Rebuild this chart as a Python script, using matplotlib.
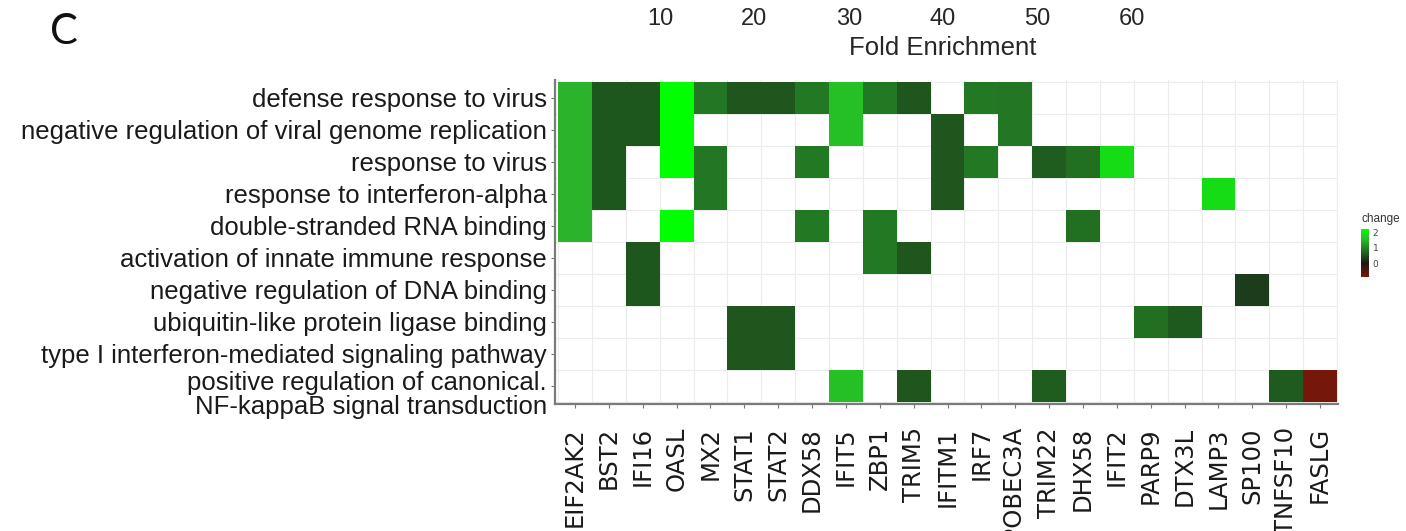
import numpy as np
import matplotlib
matplotlib.use("Agg")
import matplotlib.pyplot as plt
from matplotlib.colors import LinearSegmentedColormap
from matplotlib.transforms import ScaledTranslation

# GO terms (rows, top to bottom)
terms = [
    "defense response to virus",
    "negative regulation of viral genome replication",
    "response to virus",
    "response to interferon-alpha",
    "double-stranded RNA binding",
    "activation of innate immune response",
    "negative regulation of DNA binding",
    "ubiquitin-like protein ligase binding",
    "type I interferon-mediated signaling pathway",
    "positive regulation of canonical.\nNF-kappaB signal transduction",
]

# genes (columns, left to right) and their change values
genes = ["EIF2AK2", "BST2", "IFI16", "OASL", "MX2", "STAT1", "STAT2", "DDX58",
         "IFIT5", "ZBP1", "TRIM5", "IFITM1", "IRF7", "APOBEC3A", "TRIM22",
         "DHX58", "IFIT2", "PARP9", "DTX3L", "LAMP3", "SP100", "TNFSF10", "FASLG"]
change = [1.48, 0.56, 0.56, 2.20, 0.88, 0.55, 0.55, 0.90,
          1.60, 0.90, 0.55, 0.55, 0.90, 0.88, 0.62,
          0.80, 1.87, 0.80, 0.58, 1.87, 0.32, 0.60, -0.85]

# genes annotated to each term
term_genes = [
    ["EIF2AK2", "BST2", "IFI16", "OASL", "MX2", "STAT1", "STAT2", "DDX58",
     "IFIT5", "ZBP1", "TRIM5", "IRF7", "APOBEC3A"],
    ["EIF2AK2", "BST2", "IFI16", "OASL", "IFIT5", "IFITM1", "APOBEC3A"],
    ["EIF2AK2", "BST2", "OASL", "MX2", "DDX58", "IFITM1", "IRF7", "TRIM22",
     "DHX58", "IFIT2"],
    ["EIF2AK2", "BST2", "MX2", "IFITM1", "LAMP3"],
    ["EIF2AK2", "OASL", "DDX58", "ZBP1", "DHX58"],
    ["IFI16", "ZBP1", "TRIM5"],
    ["IFI16", "SP100"],
    ["STAT1", "STAT2", "PARP9", "DTX3L"],
    ["STAT1", "STAT2"],
    ["IFIT5", "TRIM5", "TRIM22", "TNFSF10", "FASLG"],
]

# x axis of the panel above (only its labels fall inside this figure)
enrich_ticks = [10, 20, 30, 40, 50, 60]

# ---------------------------------------------------------------------------
n_rows, n_cols = len(terms), len(genes)
mat = np.full((n_rows, n_cols), np.nan)
for i, members in enumerate(term_genes):
    for g in members:
        j = genes.index(g)
        mat[i, j] = change[j]

vmin, vmax = -0.9, 2.2
anchors = [(-0.9, "#7a1808"), (0.0, "#1a1a16"), (0.55, "#1e561e"),
           (1.5, "#2cb52c"), (2.2, "#00ff00")]
cmap = LinearSegmentedColormap.from_list(
    "change", [((v - vmin) / (vmax - vmin), c) for v, c in anchors])

W, H = 1406, 531
fig = plt.figure(figsize=(W / 100, H / 100), dpi=100)
fig.patch.set_facecolor("white")


def box(x0, y0, x1, y1):
    """pixel box (left, top, right, bottom) -> figure fraction rect"""
    return [x0 / W, 1 - y1 / H, (x1 - x0) / W, (y1 - y0) / H]


ax = fig.add_axes(box(555, 80, 1338, 403.5))
xe = np.arange(n_cols + 1) - 0.5
ye = np.arange(n_rows + 1) - 0.5
mesh = ax.pcolormesh(xe, ye, np.ma.masked_invalid(mat), cmap=cmap,
                     vmin=vmin, vmax=vmax, linewidth=0)
ax.set_xlim(-0.59, n_cols - 0.47)
ax.set_ylim(n_rows - 0.45, -0.55)

ax.set_xticks(np.arange(n_cols))
ax.set_xticklabels(genes, rotation=90, fontsize=17.5, family="DejaVu Sans",
                   color="#1a1a1a")
ax.set_yticks(np.arange(n_rows))
ax.set_yticklabels(terms, fontsize=18.5, family="Liberation Sans",
                   color="#1a1a1a")

ax.set_xticks(xe, minor=True)
ax.set_yticks(ye, minor=True)
ax.grid(which="minor", color="#ececec", linewidth=0.8)
ax.set_axisbelow(True)
ax.tick_params(which="minor", length=0)
ax.tick_params(axis="x", which="major", length=3, width=0.8, color="#777777",
               pad=14)
ax.tick_params(axis="y", which="major", length=3, width=0.8, color="#777777",
               pad=3)
for side in ("top", "right"):
    ax.spines[side].set_visible(False)
for side in ("left", "bottom"):
    ax.spines[side].set_color("#7a7a7a")
    ax.spines[side].set_linewidth(1.6)

# the two-line term label sits a little below its row centre
last = ax.yaxis.get_major_ticks()[-1].label1
last.set_linespacing(1.0)
last.set_transform(last.get_transform() +
                   ScaledTranslation(0, -5 / 72, fig.dpi_scale_trans))

# labels of the enrichment axis belonging to the panel above
top = fig.add_axes(box(566, -40, 1320, 0))
top.set_xlim(0, 80)
top.set_xticks(enrich_ticks)
top.set_xticklabels([str(t) for t in enrich_ticks], fontsize=17,
                    family="Liberation Sans", color="#262626")
top.set_yticks([])
top.tick_params(axis="x", length=0, pad=6)
top.set_xlabel("Fold Enrichment", fontsize=18.5, family="Liberation Sans",
               color="#262626", labelpad=4)
top.patch.set_visible(False)
for s in top.spines.values():
    s.set_visible(False)

# colour bar
cax = fig.add_axes(box(1361, 229, 1368.5, 277))
cb = fig.colorbar(mesh, cax=cax, ticks=[0, 1, 2])
cb.outline.set_visible(False)
cax.tick_params(length=0, labelsize=6.5, pad=3, colors="#444444")
cax.set_title("change", fontsize=8.5, loc="left", pad=5, color="#333333",
              family="Liberation Sans")

fig.text(63.5 / W, 1 - 32 / H, "C", fontsize=30, family="Lato",
         ha="center", va="center", color="#111111")

fig.savefig("out.png", dpi=100, facecolor="white")
